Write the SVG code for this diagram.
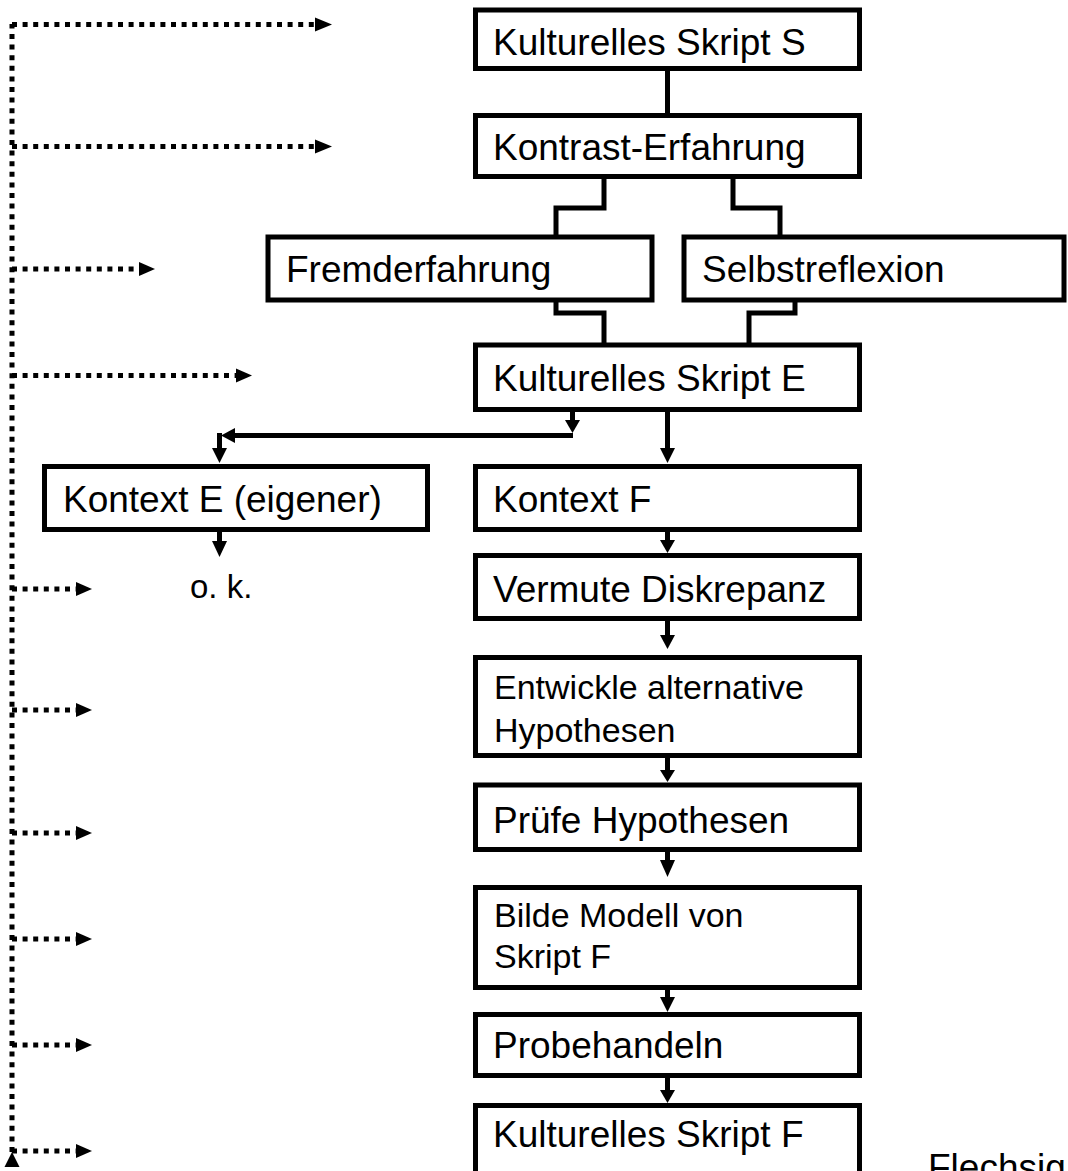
<svg xmlns="http://www.w3.org/2000/svg" width="1068" height="1171" viewBox="0 0 1068 1171">
  <style>
    .box { fill: #fff; stroke: #000; stroke-width: 5; }
    .t { font-family: "Liberation Sans", Arial, sans-serif; font-size: 37px; fill: #000; }
    .t2 { font-family: "Liberation Sans", Arial, sans-serif; font-size: 34px; fill: #000; }
    .ln { fill: none; stroke: #000; stroke-width: 5; }
    .dot { fill: none; stroke: #000; stroke-width: 5; stroke-dasharray: 5 5.6; }
    .ah { fill: #000; }
  </style>
  <rect width="1068" height="1171" fill="#fff"/>

  <g id="connectors">
    <!-- dotted feedback lines -->
    <path class="dot" d="M12,1152 V24"/>
    <path class="dot" d="M12,24.5 H316"/>
    <polygon class="ah" points="315,17.5 332,24.5 315,31.5"/>
    <path class="dot" d="M12,146.5 H316"/>
    <polygon class="ah" points="315,139.5 332,146.5 315,153.5"/>
    <path class="dot" d="M12,269 H140"/>
    <polygon class="ah" points="139,262 155,269 139,276"/>
    <path class="dot" d="M12,375.5 H237"/>
    <polygon class="ah" points="236,368.5 252,375.5 236,382.5"/>
    <path class="dot" d="M12,589 H77"/>
    <polygon class="ah" points="76,582 92,589 76,596"/>
    <path class="dot" d="M12,710 H77"/>
    <polygon class="ah" points="76,703 92,710 76,717"/>
    <path class="dot" d="M12,833 H77"/>
    <polygon class="ah" points="76,826 92,833 76,840"/>
    <path class="dot" d="M12,939 H77"/>
    <polygon class="ah" points="76,932 92,939 76,946"/>
    <path class="dot" d="M12,1045 H77"/>
    <polygon class="ah" points="76,1038 92,1045 76,1052"/>
    <path class="dot" d="M12,1151 H77"/>
    <polygon class="ah" points="76,1144 92,1151 76,1158"/>
    <polygon class="ah" points="12,1152 19.5,1167 4.5,1167"/>

    <!-- top structure -->
    <path class="ln" d="M667.5,68 V116"/>
    <path class="ln" d="M604,176 V208 H556 V237"/>
    <path class="ln" d="M733,176 V208 H780 V237"/>
    <path class="ln" d="M556,300 V313 H604 V345"/>
    <path class="ln" d="M795,300 V313 H749 V345"/>

    <!-- KSE branch to Kontext E -->
    <path class="ln" d="M572.5,409 V421"/>
    <polygon class="ah" points="565,420 580,420 572.5,433"/>
    <path class="ln" d="M573,435.5 H234"/>
    <polygon class="ah" points="235,428 221,435.5 235,443"/>
    <path class="ln" d="M219.5,433 V449"/>
    <polygon class="ah" points="212,448 227,448 219.5,463"/>
    <path class="ln" d="M219.5,529 V542"/>
    <polygon class="ah" points="212,541 227,541 219.5,557"/>

    <!-- main column arrows -->
    <path class="ln" d="M667.5,409 V449"/>
    <polygon class="ah" points="660,448 675,448 667.5,463"/>
    <path class="ln" d="M667.5,529 V541"/>
    <polygon class="ah" points="660,540 675,540 667.5,553"/>
    <path class="ln" d="M667.5,618 V636"/>
    <polygon class="ah" points="660,635 675,635 667.5,649"/>
    <path class="ln" d="M667.5,755 V771"/>
    <polygon class="ah" points="660,770 675,770 667.5,782"/>
    <path class="ln" d="M667.5,849 V861"/>
    <polygon class="ah" points="660,860 675,860 667.5,877"/>
    <path class="ln" d="M667.5,983 V998"/>
    <polygon class="ah" points="660,997 675,997 667.5,1012"/>
    <path class="ln" d="M667.5,1075 V1091"/>
    <polygon class="ah" points="660,1090 675,1090 667.5,1103"/>
  </g>

  <g id="n-kss">
    <rect class="box" x="475.5" y="10" width="384" height="58.5"/>
    <text class="t" x="493" y="55">Kulturelles Skript S</text>
  </g>
  <g id="n-kontrast">
    <rect class="box" x="475.5" y="115.5" width="384" height="61"/>
    <text class="t" x="493" y="160">Kontrast-Erfahrung</text>
  </g>
  <g id="n-fremd">
    <rect class="box" x="268" y="237" width="384" height="63"/>
    <text class="t" x="286" y="282">Fremderfahrung</text>
  </g>
  <g id="n-selbst">
    <rect class="box" x="684" y="237" width="380" height="63"/>
    <text class="t" x="702" y="282">Selbstreflexion</text>
  </g>
  <g id="n-kse">
    <rect class="box" x="475.5" y="345" width="384" height="64.5"/>
    <text class="t" x="493" y="391">Kulturelles Skript E</text>
  </g>
  <g id="n-kontext-e">
    <rect class="box" x="44.5" y="466.5" width="383" height="63"/>
    <text class="t" x="63" y="512">Kontext E (eigener)</text>
  </g>
  <g id="n-ok">
    <text class="t2" x="190" y="598" style="font-size:33px">o. k.</text>
  </g>
  <g id="n-kontext-f">
    <rect class="box" x="475.5" y="466.5" width="384" height="63"/>
    <text class="t" x="493" y="512">Kontext F</text>
  </g>
  <g id="n-vermute">
    <rect class="box" x="475.5" y="555.5" width="384" height="63"/>
    <text class="t" x="493" y="602">Vermute Diskrepanz</text>
  </g>
  <g id="n-entwickle">
    <rect class="box" x="475.5" y="657.5" width="384" height="98"/>
    <text class="t2" x="494" y="699">Entwickle alternative</text>
    <text class="t2" x="494" y="742">Hypothesen</text>
  </g>
  <g id="n-pruefe">
    <rect class="box" x="475.5" y="785" width="384" height="64.5"/>
    <text class="t" x="493" y="833">Prüfe Hypothesen</text>
  </g>
  <g id="n-bilde">
    <rect class="box" x="475.5" y="887.5" width="384" height="100"/>
    <text class="t2" x="494" y="927">Bilde Modell von</text>
    <text class="t2" x="494" y="968">Skript F</text>
  </g>
  <g id="n-probe">
    <rect class="box" x="475.5" y="1014.5" width="384" height="61"/>
    <text class="t" x="493" y="1058">Probehandeln</text>
  </g>
  <g id="n-ksf">
    <rect class="box" x="475.5" y="1105.5" width="384" height="75"/>
    <text class="t" x="493" y="1147">Kulturelles Skript F</text>
  </g>
  <g id="n-flechsig">
    <text class="t" x="928" y="1180">Flechsig</text>
  </g>
</svg>
